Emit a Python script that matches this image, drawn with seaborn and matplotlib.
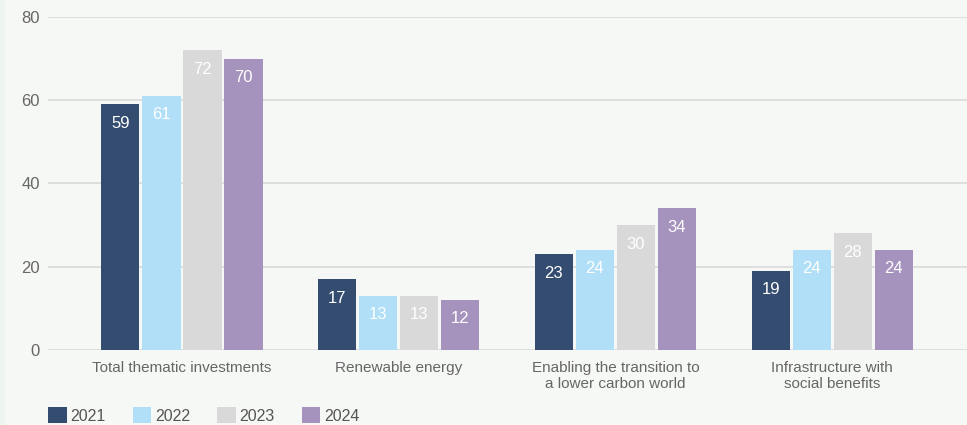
import matplotlib
matplotlib.use("Agg")
import matplotlib.pyplot as plt
import pandas as pd
import seaborn as sns
from matplotlib.patches import Patch, Rectangle

# ----------------------------------------------------------
# Data
# ----------------------------------------------------------
categories = [
    "Total thematic investments",
    "Renewable energy",
    "Enabling the transition to\na lower carbon world",
    "Infrastructure with\nsocial benefits",
]
years = ["2021", "2022", "2023", "2024"]
values_2021 = [59, 17, 23, 19]
values_2022 = [61, 13, 24, 24]
values_2023 = [72, 13, 30, 28]
values_2024 = [70, 12, 34, 24]

colors = ["#344c70", "#b0dff7", "#d9d9d9", "#a592bd"]
bg = "#f6f8f5"

rows = []
for year, vals in zip(years, [values_2021, values_2022, values_2023, values_2024]):
    for cat, v in zip(categories, vals):
        rows.append({"category": cat, "year": year, "value": v})
df = pd.DataFrame(rows)

# ----------------------------------------------------------
# Plot
# ----------------------------------------------------------
sns.set_style("white")
plt.rcParams["font.family"] = ["Liberation Sans", "DejaVu Sans"]

fig = plt.figure(figsize=(9.67, 4.25), dpi=100, facecolor=bg)
fig.patches.append(Rectangle((0, 0), 5 / 967, 1, transform=fig.transFigure,
                             facecolor="#eef4ee", edgecolor="none", zorder=-1))
ax = fig.add_axes([48 / 967, 1 - 350 / 425, 1 - 48 / 967, (350 - 17) / 425])
ax.set_facecolor(bg)

sns.barplot(data=df, x="category", y="value", hue="year", palette=colors,
            width=0.757, gap=0.07, saturation=1, linewidth=0, edgecolor="none",
            legend=False, ax=ax, zorder=3)

for cont in ax.containers:
    ax.bar_label(cont, padding=-19, color="white", fontsize=12)

ax.set_ylim(0, 80)
ax.set_yticks([0, 20, 40, 60, 80])
ax.set_xlim(-0.618, 3.622)
ax.grid(axis="y", color="#dcdcdc", linewidth=1.3, zorder=0)
ax.set_axisbelow(True)
sns.despine(ax=ax, left=True, bottom=True)
ax.tick_params(axis="y", length=0, pad=6, labelsize=12, labelcolor="#666666")
ax.tick_params(axis="x", length=0, pad=8, labelsize=11, labelcolor="#666666")
for lbl in ax.get_xticklabels():
    lbl.set_linespacing(1.2)
ax.set_xlabel("")
ax.set_ylabel("")

handles = [Patch(facecolor=c, edgecolor="none") for c in colors]
fig.legend(handles, years, loc="lower left", bbox_to_anchor=(37 / 967, -10 / 425),
           ncol=4, frameon=False, fontsize=11.5, labelcolor="#555555",
           handlelength=1.15, handleheight=1.15, handletextpad=0.25,
           columnspacing=1.69, borderpad=0.2)

fig.savefig("out.png", dpi=100, facecolor=bg)
